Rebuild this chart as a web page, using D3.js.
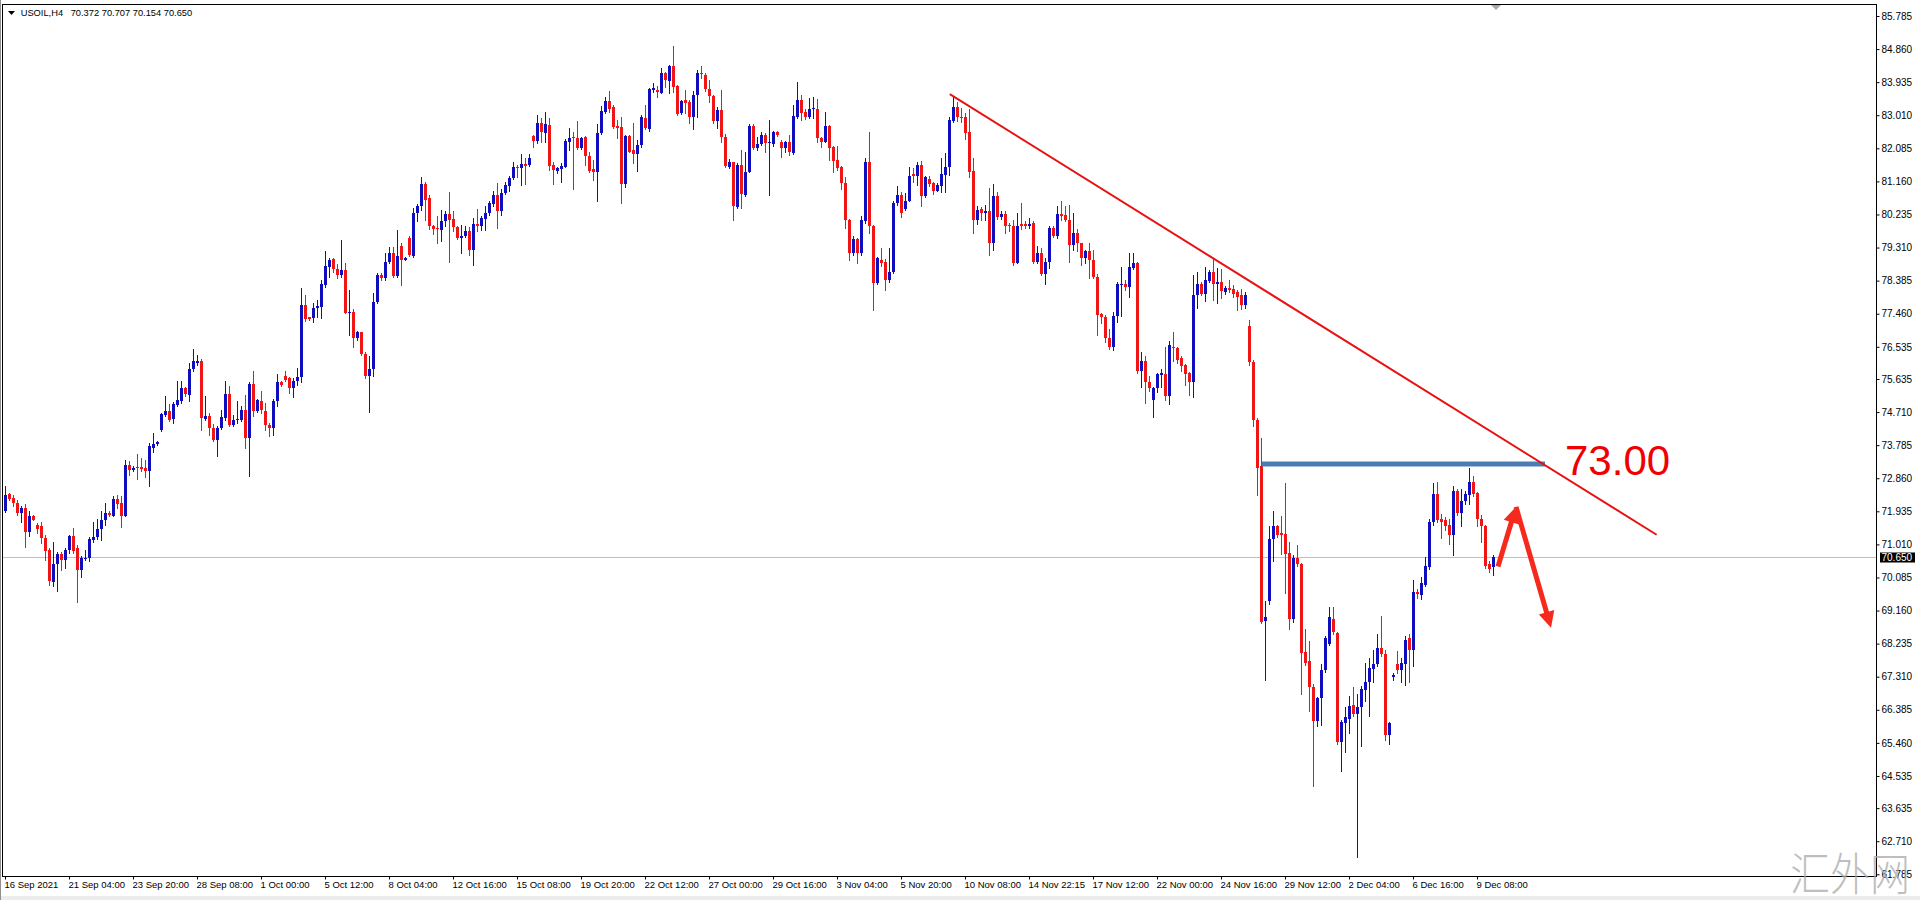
<!DOCTYPE html>
<html><head><meta charset="utf-8">
<script src="https://cdn.jsdelivr.net/npm/d3@7"></script>
<style>
html,body{margin:0;padding:0;background:#fff;}
svg{display:block;}
</style></head>
<body>
<svg id="chart" width="1920" height="900"></svg>
<script>
// ---------------- DATA ----------------
const symbolName = "USOIL,H4";
const lastQuote = ["70.372", "70.707", "70.154", "70.650"];

const opens = [
71.93,72.43,72.31,72.18,71.89,72.03,71.35,71.79,71.56,71.53,
71.19,70.84,69.95,70.47,70.75,70.58,70.84,71.25,70.91,70.28,
70.60,70.63,71.12,71.21,71.44,71.68,71.89,71.81,72.28,72.17,
71.81,73.24,73.10,73.17,73.17,73.14,73.05,73.70,73.81,74.20,
74.63,74.75,74.51,74.91,75.01,75.37,75.19,75.91,76.08,76.13,
74.53,74.61,74.26,73.94,74.26,74.54,75.21,74.36,74.48,74.50,
74.77,73.98,75.50,74.73,75.03,74.73,74.36,74.26,75.01,75.55,
75.72,75.66,75.38,75.59,75.69,77.71,77.36,77.34,77.62,77.66,
78.27,78.78,78.99,78.71,78.55,78.69,77.49,77.52,76.78,76.94,
76.34,75.72,75.91,77.80,78.55,78.45,78.92,79.17,78.52,79.36,
78.97,79.57,79.08,80.27,80.46,81.09,80.69,79.92,79.87,79.80,
80.04,80.25,80.10,79.88,79.57,79.62,79.76,79.23,79.97,79.90,
80.10,80.27,80.53,80.78,80.32,80.83,81.03,81.25,81.57,81.53,
81.65,81.62,82.43,82.30,82.79,82.52,82.74,81.62,81.46,81.50,
81.57,82.27,82.39,82.37,82.09,82.39,81.86,81.50,81.43,82.51,
83.11,83.42,83.23,82.71,82.69,81.09,82.43,82.04,81.93,82.18,
82.93,82.62,83.72,83.72,83.64,84.18,83.98,84.39,83.83,83.07,
83.44,83.39,82.95,83.58,84.20,84.14,83.74,83.55,82.86,83.16,
82.41,81.57,81.69,80.44,81.62,80.78,81.43,82.71,82.09,82.21,
82.46,82.23,82.21,82.55,82.25,82.09,82.25,81.95,82.97,83.44,
83.11,82.97,83.18,83.18,82.37,82.27,82.71,82.11,81.76,81.56,
81.11,80.08,79.15,79.54,79.15,80.04,81.69,79.90,78.31,78.95,
78.92,78.39,78.64,80.55,80.78,80.38,80.62,81.37,81.31,81.62,
80.75,81.22,81.11,80.90,81.03,81.34,81.56,82.86,83.23,82.95,
82.97,82.55,81.46,80.07,80.38,80.29,80.34,79.45,80.74,80.16,
80.25,79.94,79.92,78.89,79.97,79.97,79.90,80.01,78.92,79.17,
78.57,78.92,79.85,79.62,80.25,80.23,80.08,79.37,79.73,79.43,
79.01,79.20,78.97,78.48,77.46,77.38,76.78,76.53,77.40,78.27,
78.29,78.20,78.73,78.89,75.87,76.15,75.55,75.06,75.38,75.75,
75.78,75.16,76.54,76.49,76.21,76.02,75.80,75.55,77.97,78.30,
78.02,78.37,78.64,78.30,78.34,78.06,78.18,78.14,78.06,77.99,
77.69,77.13,76.12,74.48,73.19,68.87,69.43,71.15,71.52,71.34,
71.31,70.78,68.93,70.62,70.45,68.01,67.74,67.02,66.06,66.71,
67.49,68.23,68.93,68.53,65.48,66.02,66.13,66.53,66.26,66.47,
66.93,67.17,67.52,67.66,68.11,67.95,65.67,67.29,67.66,67.49,
67.66,68.38,68.07,69.67,69.59,69.88,70.38,71.65,72.42,71.73,
71.68,71.56,71.28,72.51,71.89,72.23,72.39,72.75,72.45,71.73,
71.52,70.47,70.372];

const highs = [
72.63,72.46,72.40,72.24,72.07,72.15,71.93,71.84,71.61,71.63,
71.28,70.91,71.09,70.79,70.79,70.91,71.28,71.47,71.00,70.68,
70.84,71.23,71.65,71.72,71.93,72.18,71.93,72.37,72.40,72.37,
73.38,73.33,73.19,73.54,73.42,73.38,73.84,74.12,73.89,74.68,
75.17,74.94,74.98,75.59,75.59,75.41,76.08,76.48,76.31,76.19,
75.15,74.68,74.38,74.31,74.77,75.59,75.43,74.63,75.01,74.89,
75.19,75.54,75.87,75.07,75.31,74.96,74.40,75.07,75.78,75.59,
75.85,75.69,75.66,75.94,78.17,77.99,77.38,77.77,77.83,78.41,
79.20,79.01,79.01,78.85,79.51,78.87,78.13,77.59,76.98,76.96,
76.38,76.27,78.05,78.59,78.59,79.17,79.32,79.32,79.80,79.43,
79.06,79.64,80.41,80.53,81.27,81.13,80.78,79.94,80.18,80.36,
80.32,80.86,80.32,79.90,79.94,79.90,79.88,80.13,80.38,80.18,
80.46,80.60,80.90,81.11,80.94,81.13,81.31,81.69,81.62,81.93,
81.81,81.93,82.46,83.02,82.93,83.11,82.93,81.69,81.56,81.67,
82.34,82.65,82.55,82.86,82.41,82.43,81.99,81.76,82.77,83.27,
83.53,83.69,83.30,82.88,82.95,82.46,82.46,82.79,82.32,83.02,
83.30,83.76,83.90,83.83,84.32,84.23,84.42,84.95,83.86,83.44,
83.72,83.44,83.70,84.28,84.39,84.20,84.00,83.58,83.25,83.72,
82.49,81.78,81.71,81.67,82.04,81.99,82.77,82.77,82.39,82.55,
82.52,82.88,82.58,82.58,82.32,82.30,82.46,83.30,83.95,83.58,
83.18,83.48,83.51,83.46,82.41,83.11,82.74,82.15,82.15,81.59,
81.28,80.10,79.62,79.57,80.20,81.81,82.53,79.94,79.06,79.29,
78.99,79.29,80.60,81.03,80.85,80.83,81.57,81.53,81.69,81.74,
81.31,81.31,81.15,81.11,81.81,81.95,82.95,83.51,83.39,83.20,
83.08,83.18,81.81,80.46,80.44,80.50,80.97,81.09,80.85,80.32,
80.34,79.99,80.08,80.27,80.55,80.04,80.13,80.04,79.34,79.29,
79.01,79.90,79.90,80.46,80.62,80.48,80.50,80.27,79.82,79.45,
79.25,79.43,79.25,78.57,77.49,77.43,77.03,77.52,78.36,78.78,
78.41,79.17,79.15,78.92,76.40,76.27,75.72,75.41,75.80,75.92,
76.52,76.70,76.95,76.54,76.29,76.05,75.84,78.55,78.64,78.34,
78.76,78.68,79.01,78.74,78.71,78.24,78.39,78.27,78.12,78.14,
78.06,77.28,76.17,74.54,73.99,69.43,71.52,71.95,71.56,71.81,
72.72,71.09,70.70,70.99,70.50,68.65,68.32,67.12,66.75,67.66,
68.44,69.27,69.27,68.56,66.10,66.47,66.78,67.02,66.84,67.05,
67.70,67.83,68.07,68.50,69.00,68.07,66.04,67.41,68.03,67.83,
68.44,68.50,70.01,69.76,70.11,70.66,71.71,72.72,72.76,71.86,
71.77,71.73,72.63,72.57,72.57,72.51,73.16,72.91,72.47,71.83,
71.56,70.54,70.707];

const lows = [
71.91,72.24,72.09,71.84,71.63,70.95,71.25,71.68,71.33,71.05,
70.58,69.88,69.86,69.70,70.30,70.35,70.77,70.77,69.39,70.10,
70.58,70.54,71.09,71.16,71.14,71.56,71.79,71.79,72.03,71.50,
71.79,72.96,73.05,72.84,73.05,72.89,72.65,73.58,73.79,74.17,
74.59,74.45,74.40,74.87,74.96,75.17,75.01,75.85,76.03,74.22,
74.50,74.08,73.89,73.49,74.23,74.50,74.33,74.33,74.40,74.45,
73.70,72.93,74.61,74.70,74.68,74.22,74.03,74.08,74.89,75.45,
75.59,75.24,75.13,75.47,75.54,77.27,77.29,77.24,77.36,77.34,
78.22,78.50,78.64,78.45,78.50,77.48,76.87,76.54,76.73,76.31,
75.66,74.70,75.72,77.76,78.41,78.41,78.87,78.50,78.50,78.27,
78.95,79.08,79.04,80.04,80.36,80.07,79.82,79.69,79.43,79.48,
79.90,78.92,79.76,79.54,79.15,79.60,79.11,78.83,79.76,79.79,
79.80,80.22,80.48,79.85,80.22,80.81,80.90,81.22,81.29,81.06,
81.09,81.59,82.11,82.24,82.27,82.27,81.48,81.09,81.39,81.13,
81.56,82.04,80.94,82.06,82.06,81.62,81.43,81.20,80.60,82.49,
83.08,83.11,82.65,82.37,80.57,81.00,81.97,81.67,81.46,82.13,
82.62,82.58,83.67,83.53,83.62,83.81,83.62,83.67,83.02,83.05,
83.08,82.79,82.62,82.95,84.04,83.70,83.39,82.80,82.65,82.27,
81.56,81.53,80.07,80.41,80.41,80.75,81.41,82.06,82.04,82.18,
81.97,80.78,82.15,82.43,81.85,81.97,81.90,81.93,82.93,82.88,
82.90,82.93,82.93,82.25,82.11,82.25,81.76,81.42,81.48,80.94,
79.85,78.95,79.11,78.89,79.11,80.01,79.71,77.57,78.29,78.80,
78.13,78.36,78.61,80.50,80.16,80.36,80.60,81.15,81.06,80.46,
80.72,81.03,80.81,80.88,80.85,80.85,81.34,82.83,82.86,82.83,
82.34,81.28,79.71,79.97,80.08,80.08,79.11,79.25,80.10,80.10,
79.71,79.76,78.83,78.87,79.82,79.85,79.85,78.87,78.87,78.55,
78.29,78.73,79.60,79.57,80.08,80.04,78.92,79.25,79.20,78.83,
78.87,78.45,78.45,76.87,77.20,76.66,76.47,76.45,77.24,77.40,
78.13,77.94,78.71,75.80,75.41,74.96,75.31,74.57,75.28,75.41,
75.06,74.94,76.15,76.09,75.87,75.47,75.19,75.14,77.63,77.97,
77.81,78.34,77.85,77.77,77.90,78.02,78.06,77.93,77.57,77.60,
77.63,76.02,74.32,72.39,68.81,67.21,69.34,70.54,71.22,70.75,
69.64,68.65,68.85,70.41,66.84,67.64,66.34,64.25,65.94,65.97,
67.45,68.19,68.50,65.44,64.68,65.20,65.73,66.22,62.28,65.36,
66.63,66.22,67.15,67.61,67.89,65.54,65.44,67.21,67.42,67.15,
67.09,67.15,67.61,69.52,69.49,69.86,70.33,71.56,71.65,71.19,
71.40,71.03,70.72,71.83,71.52,72.14,72.14,72.35,71.52,71.07,
70.35,70.23,70.154];

const closes = [
72.40,72.28,72.17,71.89,72.03,71.35,71.79,71.70,71.44,71.19,
70.82,69.98,70.47,70.75,70.56,70.84,71.25,70.82,70.28,70.63,
70.63,71.16,71.23,71.44,71.70,71.89,71.83,72.28,72.15,71.79,
73.24,73.10,73.14,73.14,73.12,73.05,73.75,73.82,73.86,74.66,
74.75,74.50,74.94,75.04,75.37,75.21,75.91,76.13,76.13,74.54,
74.61,74.26,73.94,74.26,74.57,75.21,74.36,74.50,74.52,74.77,
73.98,75.50,74.73,75.05,74.77,74.36,74.26,75.03,75.55,75.47,
75.61,75.38,75.59,75.69,77.71,77.31,77.32,77.62,77.68,78.30,
78.80,78.97,78.71,78.55,78.69,77.49,77.52,76.78,76.94,76.34,
75.72,75.91,77.80,78.55,78.45,78.92,79.15,78.52,79.08,78.97,
79.02,79.11,80.29,80.48,81.09,80.64,79.90,79.82,79.82,80.04,
80.25,80.08,79.88,79.57,79.64,79.76,79.23,79.97,79.90,80.13,
80.29,80.55,80.78,80.32,80.83,81.06,81.25,81.56,81.53,81.65,
81.59,81.81,82.30,82.80,82.55,82.77,81.59,81.48,81.53,81.59,
82.30,82.37,82.36,82.09,82.37,81.86,81.46,81.43,82.52,83.14,
83.42,83.18,82.69,82.65,81.09,82.43,81.99,81.93,82.18,82.95,
82.65,83.74,83.76,83.67,84.18,84.00,84.39,83.81,83.05,83.42,
83.36,82.95,83.58,84.20,84.17,83.74,83.55,82.86,83.16,82.39,
81.59,81.71,80.46,81.62,80.81,81.43,82.71,82.09,82.21,82.46,
82.23,82.27,82.55,82.46,82.09,82.25,81.97,82.99,83.44,83.08,
82.97,83.18,83.20,82.37,82.27,82.71,82.09,81.74,81.53,81.11,
80.08,79.15,79.54,79.15,80.07,81.71,79.90,78.31,79.01,78.89,
78.39,78.64,80.57,80.78,80.27,80.62,81.31,81.31,81.62,80.75,
81.28,81.09,80.90,81.06,81.37,81.57,82.88,83.23,82.95,82.93,
82.51,81.41,80.07,80.36,80.29,80.34,79.45,80.74,80.16,80.25,
79.90,79.90,78.89,79.92,79.92,79.90,79.97,78.92,79.17,78.57,
78.92,79.85,79.62,80.25,80.20,80.08,79.37,79.73,79.43,79.01,
79.20,78.97,78.48,77.43,77.36,76.78,76.53,77.40,78.29,78.29,
78.20,78.76,78.89,75.87,76.15,75.55,75.38,75.38,75.78,75.80,
75.16,76.58,76.49,76.17,76.00,75.78,75.55,77.97,78.30,78.02,
78.39,78.64,78.30,78.34,78.09,78.18,78.12,78.02,77.93,77.69,
77.97,76.12,74.48,73.16,68.85,68.97,71.15,71.52,71.28,71.28,
70.75,68.93,70.62,70.47,67.98,67.70,67.02,66.06,66.71,67.49,
68.38,68.97,68.56,65.48,66.04,66.18,66.50,66.26,66.47,66.96,
67.17,67.54,67.66,68.11,67.95,65.67,66.01,67.36,67.49,67.70,
68.35,68.07,69.67,69.61,69.92,70.41,71.65,72.42,71.68,71.65,
71.52,71.28,72.51,71.89,72.23,72.42,72.75,72.42,71.73,71.52,
70.41,70.33,70.650];

const timeLabels = [
"16 Sep 2021","21 Sep 04:00","23 Sep 20:00","28 Sep 08:00","1 Oct 00:00","5 Oct 12:00",
"8 Oct 04:00","12 Oct 16:00","15 Oct 08:00","19 Oct 20:00","22 Oct 12:00","27 Oct 00:00",
"29 Oct 16:00","3 Nov 04:00","5 Nov 20:00","10 Nov 08:00","14 Nov 22:15","17 Nov 12:00",
"22 Nov 00:00","24 Nov 16:00","29 Nov 12:00","2 Dec 04:00","6 Dec 16:00","9 Dec 08:00"];
const timeLabelEvery = 16;   // bars between time labels

const priceTicks = [85.785,84.860,83.935,83.010,82.085,81.160,80.235,79.310,78.385,77.460,
76.535,75.635,74.710,73.785,72.860,71.935,71.010,70.085,69.160,68.235,67.310,66.385,
65.460,64.535,63.635,62.710,61.785];
const currentPrice = 70.650;

// annotations: [bar index, price]
const trendLine = [[236.2, 83.60], [412.9, 71.28]];
const levelLine = [[314.25, 73.26], [385.0, 73.26]];
const levelText = "73.00";
const levelTextAt = [390.0, 72.96];
const arrowUp = [[373.25, 70.39], [377.75, 72.06]];
const arrowDown = [[377.75, 72.06], [386.5, 68.68]];
const watermark = "汇外网";

// ---------------- DRAW ----------------
const svg = d3.select("#chart");
const FONT = "'Liberation Sans', Arial, sans-serif";
const BULL = "#0e0ebe", BEAR = "#f01414";
const PL = 2.5, PT = 4.5, PR = 1876.5, PB = 876.5;

const x = d3.scaleLinear().domain([0, 468]).range([5, 1877]);
const y = d3.scaleLinear().domain([61.785, 85.785]).range([874.3, 16]);

svg.append("rect").attr("width", 1920).attr("height", 900).attr("fill", "#fff");
svg.append("rect").attr("x", 0).attr("y", 896).attr("width", 1920).attr("height", 4).attr("fill", "#ececec");

svg.append("defs").append("clipPath").attr("id", "clip")
  .append("rect").attr("x", 3).attr("y", 5).attr("width", 1873).attr("height", 871);

// current price line
const cpY = Math.round(y(currentPrice)) + 0.5;
svg.append("line").attr("x1", 3).attr("x2", PR).attr("y1", cpY).attr("y2", cpY)
  .attr("stroke", "#c0c0c0").attr("stroke-width", 1).attr("shape-rendering", "crispEdges");

// candles
const bars = d3.range(opens.length).map(i => ({i, o: opens[i], h: highs[i], l: lows[i], c: closes[i]}));
const gC = svg.append("g").attr("clip-path", "url(#clip)").attr("shape-rendering", "crispEdges");
const col = d => d.c >= d.o ? BULL : BEAR;
gC.selectAll("line.wick").data(bars).join("line").attr("class", "wick")
  .attr("x1", d => Math.round(x(d.i)) + 0.5).attr("x2", d => Math.round(x(d.i)) + 0.5)
  .attr("y1", d => Math.round(y(Math.max(d.h, d.o, d.c))))
  .attr("y2", d => Math.round(y(Math.min(d.l, d.o, d.c))) + 1)
  .attr("stroke", col).attr("stroke-width", 1);
gC.selectAll("rect.body").data(bars).join("rect").attr("class", "body")
  .attr("x", d => Math.round(x(d.i)) - 1).attr("width", 3)
  .attr("y", d => Math.round(y(Math.max(d.o, d.c))))
  .attr("height", d => Math.max(1, Math.round(y(Math.min(d.o, d.c))) - Math.round(y(Math.max(d.o, d.c)))))
  .attr("fill", col);

// level (blue) line
svg.append("line")
  .attr("x1", x(levelLine[0][0])).attr("y1", y(levelLine[0][1]))
  .attr("x2", x(levelLine[1][0])).attr("y2", y(levelLine[1][1]))
  .attr("stroke", "#4a7db3").attr("stroke-width", 5);

// trend line
svg.append("line")
  .attr("x1", x(trendLine[0][0])).attr("y1", y(trendLine[0][1]))
  .attr("x2", x(trendLine[1][0])).attr("y2", y(trendLine[1][1]))
  .attr("stroke", "#e81212").attr("stroke-width", 2);

// level text
svg.append("text").attr("x", x(levelTextAt[0])).attr("y", y(levelTextAt[1]))
  .attr("font-family", FONT).attr("font-size", 42).attr("fill", "#f00000").text(levelText);

// arrows
function arrow(seg) {
  const x0 = x(seg[0][0]), y0 = y(seg[0][1]), x1 = x(seg[1][0]), y1 = y(seg[1][1]);
  const dx = x1 - x0, dy = y1 - y0, len = Math.hypot(dx, dy);
  const ux = dx / len, uy = dy / len, px = -uy, py = ux;
  const hl = 16, hw = 8;
  const bx = x1 - ux * hl, by = y1 - uy * hl;
  svg.append("line").attr("x1", x0).attr("y1", y0).attr("x2", bx + ux * 2).attr("y2", by + uy * 2)
    .attr("stroke", "#f52a1c").attr("stroke-width", 5).attr("stroke-linecap", "butt");
  svg.append("path")
    .attr("d", `M${x1},${y1}L${bx + px * hw},${by + py * hw}L${bx - px * hw},${by - py * hw}Z`)
    .attr("fill", "#f52a1c");
}
arrow(arrowUp);
arrow(arrowDown);

// price axis
const yAxis = d3.axisRight(y).tickValues(priceTicks).tickFormat(d3.format(".3f"))
  .tickSize(3).tickSizeOuter(0).tickPadding(2);
const gy = svg.append("g").attr("transform", `translate(${PR},0)`).call(yAxis);
gy.select(".domain").remove();
gy.selectAll("line").attr("stroke", "#000");
gy.selectAll("text").attr("font-family", FONT).attr("font-size", 10).attr("fill", "#000");

// current price label
svg.append("rect").attr("x", 1880).attr("y", cpY - 5).attr("width", 35).attr("height", 10).attr("fill", "#000");
svg.append("text").attr("x", 1881.5).attr("y", cpY).attr("dy", "0.35em")
  .attr("font-family", FONT).attr("font-size", 10).attr("fill", "#fff").text(currentPrice.toFixed(3));

// time axis
const tIdx = timeLabels.map((_, k) => k * timeLabelEvery);
const xAxis = d3.axisBottom(x).tickValues(tIdx).tickFormat((d, k) => timeLabels[k])
  .tickSize(3).tickSizeOuter(0);
const gx = svg.append("g").attr("transform", `translate(0,${PB})`).call(xAxis);
gx.select(".domain").remove();
gx.selectAll("line").attr("stroke", "#000");
gx.selectAll("text").attr("font-family", FONT).attr("font-size", 9.5).attr("fill", "#000")
  .attr("text-anchor", "start").attr("x", -1).attr("y", 5).attr("dy", "0.71em");

// frame
svg.append("rect").attr("x", PL).attr("y", PT).attr("width", PR - PL).attr("height", PB - PT)
  .attr("fill", "none").attr("stroke", "#000").attr("stroke-width", 1).attr("shape-rendering", "crispEdges");
svg.append("line").attr("x1", 0.5).attr("x2", 0.5).attr("y1", 0).attr("y2", 900)
  .attr("stroke", "#909090").attr("shape-rendering", "crispEdges");

// chart shift marker
const sx = x(372.75);
svg.append("path").attr("d", `M${sx - 5},5L${sx + 5},5L${sx},10Z`).attr("fill", "#a8a8a8");

// header
svg.append("path").attr("d", "M8,11L15,11L11.5,15Z").attr("fill", "#000");
svg.append("text").attr("x", 20.7).attr("y", 16).attr("font-family", FONT).attr("font-size", 9.3)
  .attr("fill", "#000").text(symbolName);
svg.append("text").attr("x", 70.7).attr("y", 16).attr("font-family", FONT).attr("font-size", 9.3)
  .attr("fill", "#000").text(lastQuote.join(" "));

// watermark
svg.append("text").attr("x", 1790).attr("y", 891)
  .attr("font-family", "'Noto Sans CJK SC', sans-serif").attr("font-weight", 300)
  .attr("font-size", 45).attr("textLength", 120).attr("lengthAdjust", "spacingAndGlyphs")
  .attr("fill", "#a9a9a9").attr("fill-opacity", 0.75).text(watermark);
</script>
</body></html>
